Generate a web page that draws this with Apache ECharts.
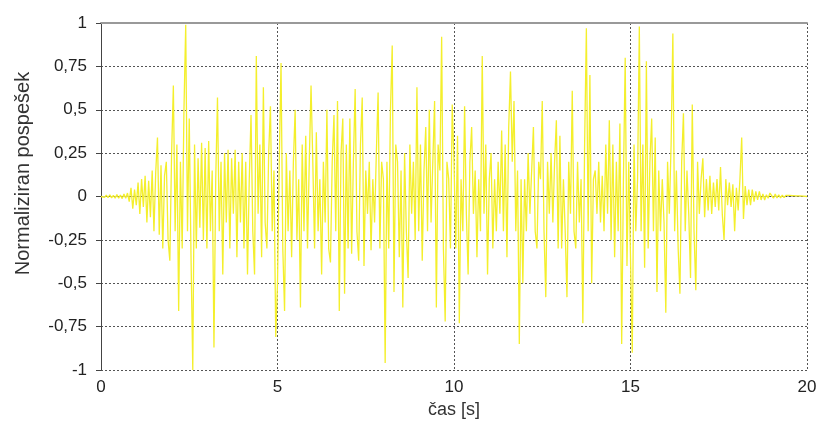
<!DOCTYPE html>
<html>
<head>
<meta charset="utf-8">
<script src="https://cdn.jsdelivr.net/npm/echarts@6/dist/echarts.min.js"></script>
<style>
html,body{margin:0;padding:0;background:#fff;}
#chart{width:821px;height:443px;}
</style>
</head>
<body>
<div id="chart"></div>
<script>
// sampling step of the record [s]
var dt = 0.05;
// x-axis tick labels
var xTicks = [0, 5, 10, 15, 20];
// y-axis tick labels
var yTicks = ['-1', '-0,75', '-0,5', '-0,25', '0', '0,25', '0,5', '0,75', '1'];
// normalized acceleration, one value per dt, second by second
var s00 = [0, 0.005, -0.005, 0.008, -0.006, 0.01, -0.008, 0.006, -0.01, 0.012, -0.01, 0.008, -0.012, 0.015, -0.01, 0.02, -0.03, 0.05, -0.07, 0.04];
var s01 = [-0.05, 0.08, -0.1, 0.1, -0.06, 0.12, -0.15, 0.09, -0.12, 0.15, -0.2, 0.14, 0.34, -0.22, 0.18, -0.3, 0.12, 0.2, -0.25, -0.37];
var s02 = [0.25, 0.64, -0.2, 0.3, -0.66, 0.2, -0.3, 0.5, 0.99, -0.2, 0.45, -0.35, -1.0, 0.3, -0.3, 0.22, -0.18, 0.31, -0.25, 0.28];
var s03 = [-0.3, 0.32, -0.2, 0.15, -0.87, 0.1, 0.57, -0.2, 0.2, -0.45, 0.25, -0.15, 0.27, -0.3, 0.22, -0.1, 0.27, -0.35, 0.2, -0.15];
var s04 = [0.25, -0.3, 0.2, -0.45, 0.1, 0.47, -0.2, -0.45, 0.81, -0.1, 0.3, -0.35, 0.63, -0.15, -0.3, 0.25, 0.52, -0.2, 0.15, -0.81];
var s05 = [-0.5, 0.2, 0.77, -0.3, -0.66, 0.25, -0.2, 0.15, -0.35, 0.2, 0.5, -0.25, 0.1, -0.64, 0.3, -0.2, 0.35, -0.3, 0.2, 0.64];
var s06 = [0.2, -0.3, 0.37, -0.2, 0.1, -0.45, 0.2, -0.15, 0.5, -0.3, -0.38, 0.2, 0.47, -0.2, 0.55, -0.66, 0.25, 0.45, -0.56, 0.3];
var s07 = [-0.3, 0.45, -0.33, 0.2, 0.62, -0.2, -0.37, 0.3, 0.57, -0.4, 0.15, -0.1, 0.2, -0.31, 0.1, -0.15, 0.25, 0.6, -0.3, 0.2];
var s08 = [0.1, -0.96, 0.2, -0.3, 0.5, 0.87, -0.55, 0.3, 0.2, -0.35, 0.15, -0.64, 0.25, -0.2, -0.47, 0.3, -0.1, 0.2, -0.25, 0.63];
var s09 = [-0.2, 0.3, -0.37, 0.15, 0.4, -0.2, 0.5, -0.15, 0.2, 0.55, -0.64, 0.3, 0.15, 0.92, -0.3, -0.72, 0.2, 0.1, -0.3, 0.53];
var s10 = [0.2, -0.3, 0.35, -0.73, 0.1, -0.2, 0.52, -0.1, -0.45, 0.2, 0.4, -0.1, 0.15, -0.35, 0.1, -0.2, 0.81, -0.1, 0.3, -0.45];
var s11 = [0.1, 0.25, -0.3, 0.1, -0.2, 0.2, -0.1, 0.38, -0.2, 0.3, -0.35, 0.4, 0.72, 0.2, 0.55, -0.2, 0.15, -0.85, 0.1, -0.5];
var s12 = [0.1, -0.2, 0.25, -0.1, 0.15, 0.4, -0.2, -0.3, 0.2, 0.1, 0.55, -0.2, -0.58, 0.2, -0.1, 0.25, -0.15, 0.2, 0.44, -0.3];
var s13 = [0.35, -0.3, 0.1, -0.2, -0.58, 0.2, -0.1, 0.61, -0.2, -0.3, 0.2, -0.15, 0.1, -0.73, 0.3, 0.97, -0.2, 0.7, -0.5, 0.1];
var s14 = [0.15, -0.1, 0.2, -0.15, 0.12, -0.2, 0.3, -0.1, 0.44, -0.25, 0.3, -0.35, 0.2, -0.2, 0.42, -0.85, 0.1, 0.8, -0.4, 0.2];
var s15 = [0.2, -0.9, 0.3, -0.2, 0.1, 0.98, -0.2, 0.3, -0.41, 0.78, -0.3, 0.2, 0.45, -0.2, 0.34, -0.55, 0.15, -0.2, 0.1, -0.15];
var s16 = [-0.67, 0.2, -0.1, 0.3, 0.94, -0.2, 0.15, -0.3, -0.56, 0.2, 0.48, -0.2, 0.15, -0.1, -0.47, 0.53, -0.2, -0.54, 0.2, -0.1];
var s17 = [0.1, 0.22, -0.12, 0.1, -0.08, 0.12, -0.1, 0.08, -0.06, 0.1, -0.08, 0.17, -0.1, -0.25, 0.1, -0.05, 0.08, -0.06, 0.07, -0.2];
var s18 = [0.05, -0.08, 0.1, 0.34, -0.13, 0.06, -0.05, 0.04, -0.05, 0.04, -0.03, 0.03, -0.02, 0.03, -0.02, 0.015, -0.02, 0.01, -0.01, 0.02];
var s19 = [0.025, -0.01, 0.015, -0.008, 0.01, -0.008, 0.008, -0.006, 0.006, -0.005, 0.006, -0.004, 0.005, -0.004, 0.004, -0.003, 0.004, -0.003, 0.002, -0.002, 0];

var values = [].concat(s00, s01, s02, s03, s04, s05, s06, s07, s08, s09,
                       s10, s11, s12, s13, s14, s15, s16, s17, s18, s19);
var data = values.map(function (v, i) { return [+(i * dt).toFixed(2), v]; });

var FONT = '"Liberation Sans", Arial, sans-serif';
var chart = echarts.init(document.getElementById('chart'), null, {renderer: 'canvas'});
chart.setOption({
  animation: false,
  backgroundColor: '#ffffff',
  grid: {left: 101, right: 14, top: 23, bottom: 73, containLabel: false},
  xAxis: [{
    type: 'value', min: 0, max: 20, interval: 5, position: 'bottom',
    name: 'čas [s]', nameLocation: 'middle', nameGap: 31,
    nameTextStyle: {fontFamily: FONT, fontSize: 18, color: '#333'},
    axisLine: {show: true, lineStyle: {color: '#444', type: [2, 2], width: 1}},
    axisTick: {show: false},
    axisLabel: {fontFamily: FONT, fontSize: 17, color: '#222', margin: 9,
      formatter: function (v) { return xTicks.indexOf(v) >= 0 ? String(v) : ''; }},
    splitLine: {show: true, lineStyle: {color: '#555', type: [2, 2], width: 1}}
  }, {
    type: 'value', min: 0, max: 20, position: 'top',
    axisLine: {show: true, lineStyle: {color: '#999', width: 2}},
    axisTick: {show: false}, axisLabel: {show: false}, splitLine: {show: false}
  }],
  yAxis: {
    type: 'value', min: -1, max: 1, interval: 0.25,
    name: 'Normaliziran pospešek', nameLocation: 'middle', nameGap: 68,
    nameTextStyle: {fontFamily: FONT, fontSize: 20, color: '#333', padding: [0, 0, 0, 46]},
    axisLine: {show: true, lineStyle: {color: '#444', width: 1}},
    axisTick: {show: true, length: 5, lineStyle: {color: '#444'}},
    axisLabel: {fontFamily: FONT, fontSize: 17, color: '#222', margin: 14,
      formatter: function (v) { return yTicks[Math.round((v + 1) / 0.25)]; }},
    splitLine: {show: true, lineStyle: {color: '#555', type: [2, 2], width: 1}}
  },
  series: [{
    type: 'line', data: data, showSymbol: false, symbol: 'none',
    lineStyle: {color: '#f4ef2c', width: 1.3}, z: 3
  }]
});
</script>
</body>
</html>
